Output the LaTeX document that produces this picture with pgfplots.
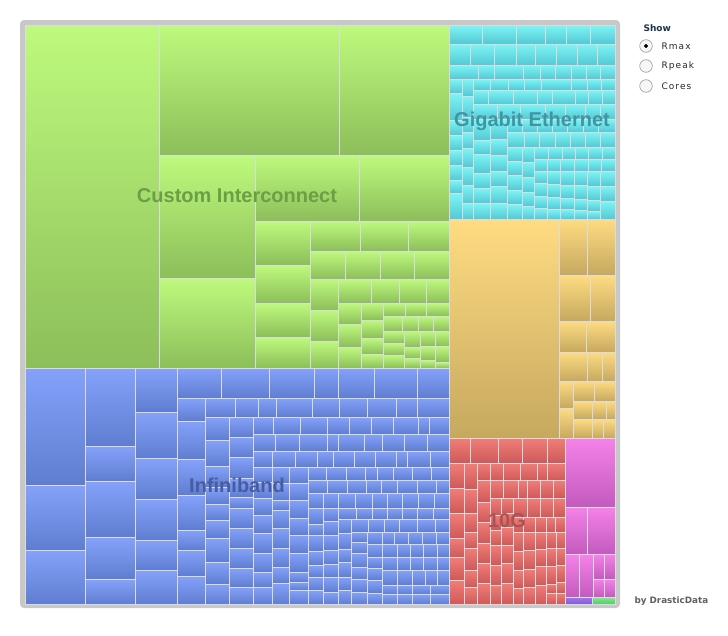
\documentclass[border=0pt]{standalone}
\usepackage{pgfplots}
\usepackage{pgfplotstable}
\pgfplotsset{compat=1.18}
\usepackage{fontspec}
\setmainfont{DejaVu Sans}
\newfontfamily\lab{Liberation Sans}

\definecolor{gT}{RGB}{190,250,125}\definecolor{gB}{RGB}{140,190,90}
\definecolor{cT}{RGB}{125,245,245}\definecolor{cB}{RGB}{85,200,212}
\definecolor{yT}{RGB}{255,220,130}\definecolor{yB}{RGB}{198,168,95}
\definecolor{bT}{RGB}{132,162,250}\definecolor{bB}{RGB}{95,125,208}
\definecolor{rT}{RGB}{242,125,120}\definecolor{rB}{RGB}{205,90,90}
\definecolor{pT}{RGB}{245,130,232}\definecolor{pB}{RGB}{195,90,190}
\definecolor{vT}{RGB}{160,120,235}\definecolor{vB}{RGB}{130,90,210}
\definecolor{eT}{RGB}{130,235,140}\definecolor{eB}{RGB}{90,200,110}
\definecolor{tileline}{RGB}{218,220,222}
\definecolor{framegray}{RGB}{200,200,200}
\definecolor{labG}{RGB}{108,158,70}
\definecolor{labC}{RGB}{62,150,165}
\definecolor{labB}{RGB}{72,92,160}
\definecolor{labR}{RGB}{172,82,82}

\pgfdeclareplotmark{emptymark}{}
\pgfplotsset{
  tiles/.style 2 args={
    scatter, only marks, mark=emptymark,
    visualization depends on={\thisrow{x1}-\thisrow{x0} \as \rw},
    visualization depends on={\thisrow{y1}-\thisrow{y0} \as \rh},
    scatter/@pre marker code/.code={%
      \shade[top color=#1,bottom color=#2,draw=tileline,line width=0.8pt]
        (0pt,0pt) rectangle (\rw pt,\rh pt);},
    scatter/@post marker code/.code={},
  }
}

% Custom Interconnect
\pgfplotstableread{
x0 y0 x1 y1
25 25 159 368
159 25 339 155
339 25 449 155
159 155 255 278
159 278 255 368
255 155 359 221
359 155 449 221
255 221 310 265
255 265 310 303
255 303 310 337
255 337 310 368
310 221 360 251
360 221 408 251
408 221 449 251
310 251 345 279
345 251 380 279
380 251 414 279
414 251 449 279
310 279 338 310
310 310 338 341
310 341 338 368
338 279 371 303
371 279 399 303
399 279 426 303
426 279 449 303
338 303 361 324
338 324 361 347
338 347 361 368
361 303 383 320
361 320 383 338
361 338 383 354
361 354 383 368
383 303 405 316
405 303 426 316
426 303 449 316
383 316 402 331
402 316 418 331
418 316 433 331
433 316 449 331
383 331 404 343
383 343 404 355
383 355 404 368
404 331 420 347
404 347 420 358
404 358 420 368
420 331 435 346
420 346 435 360
420 360 435 368
435 331 449 346
435 346 449 362
435 362 449 368
}\tblGreen

% Gigabit Ethernet
\pgfplotstableread{
x0 y0 x1 y1
449 25 482 44
482 25 516 44
516 25 545 44
545 25 566 44
566 25 590 44
590 25 615 44
449 44 470 65
470 44 494 65
494 44 516 65
516 44 535 65
535 44 556 65
556 44 577 65
577 44 597 65
597 44 615 65
449 65 478 79
478 65 494 79
494 65 523 79
523 65 540 79
540 65 555 79
555 65 571 79
571 65 586 79
586 65 600 79
600 65 615 79
449 79 462 93
449 93 462 120
449 120 462 135
449 135 462 150
449 150 462 165
449 165 462 180
449 180 462 193
449 193 462 219
462 79 473 96
462 96 473 117
462 117 473 132
462 132 473 148
462 148 473 167
462 167 473 185
462 185 473 203
462 203 473 219
473 79 490 90
490 79 508 90
508 79 524 90
524 79 541 90
541 79 571 90
571 79 587 90
587 79 601 90
601 79 615 90
473 90 488 104
488 90 513 104
513 90 537 104
537 90 552 104
552 90 575 104
575 90 588 104
588 90 602 104
602 90 615 104
473 104 497 119
497 104 520 119
520 104 545 119
545 104 565 119
565 104 585 119
585 104 600 119
600 104 615 119
473 119 490 140
473 140 490 154
473 154 490 173
473 173 490 188
473 188 490 203
473 203 490 219
490 119 507 139
490 139 507 155
490 155 507 171
490 171 507 186
490 186 507 203
490 203 507 219
507 119 522 132
522 119 537 132
537 119 552 132
552 119 567 132
567 119 583 132
583 119 598 132
598 119 615 132
507 132 524 147
524 132 539 147
539 132 555 147
555 132 570 147
570 132 585 147
585 132 600 147
600 132 615 147
507 147 522 161
507 161 522 175
507 175 522 190
507 190 522 204
507 204 522 219
522 147 534 162
522 162 534 177
522 177 534 192
522 192 534 206
522 206 534 219
534 147 548 159
548 147 562 159
562 147 575 159
575 147 588 159
588 147 602 159
602 147 615 159
534 159 547 171
547 159 560 171
560 159 574 171
574 159 588 171
588 159 601 171
601 159 615 171
534 171 547 183
534 183 547 196
534 196 547 208
534 208 547 219
547 171 560 184
547 184 560 197
547 197 560 209
547 209 560 219
560 171 574 185
560 185 574 198
560 198 574 209
560 209 574 219
574 171 587 185
574 185 587 199
574 199 587 210
574 210 587 219
587 171 600 186
587 186 600 200
587 200 600 211
587 211 600 219
600 171 615 186
600 186 615 201
600 201 615 219
}\tblCyan

% unnamed (gold)
\pgfplotstableread{
x0 y0 x1 y1
449 219 559 438
559 219 587 275
587 219 615 275
559 275 590 321
590 275 615 321
559 321 586 352
586 321 615 352
559 352 587 381
587 352 602 381
602 352 615 381
559 381 573 408
559 408 573 438
573 381 594 401
594 381 615 401
573 401 592 419
592 401 606 419
606 401 615 419
573 419 592 438
592 419 603 438
603 419 615 438
}\tblGold

% Infiniband
\pgfplotstableread{
x0 y0 x1 y1
25 368 85 485
25 485 85 550
25 550 85 604
85 368 135 446
85 446 135 481
85 481 135 537
85 537 135 579
85 579 135 604
135 368 177 412
135 412 177 458
135 458 177 499
135 499 177 540
135 540 177 570
135 570 177 604
177 368 221 398
221 368 269 398
269 368 314 398
314 368 338 398
338 368 374 398
374 368 417 398
417 368 449 398
177 398 205 421
177 421 205 459
177 459 205 495
177 495 205 530
177 530 205 550
177 550 205 576
177 576 205 604
205 398 235 417
235 398 258 417
258 398 276 417
276 398 312 417
312 398 339 417
339 398 367 417
367 398 396 417
396 398 417 417
417 398 449 417
205 417 229 440
205 440 229 466
205 466 229 487
205 487 229 504
205 504 229 520
205 520 229 538
205 538 229 562
205 562 229 584
205 584 229 604
229 417 253 437
229 437 253 457
229 457 253 478
229 478 253 497
229 497 253 508
229 508 253 528
229 528 253 548
229 548 253 568
229 568 253 587
229 587 253 604
253 417 273 434
273 417 300 434
300 417 327 434
327 417 349 434
349 417 371 434
371 417 393 434
393 417 418 434
418 417 429 434
429 417 449 434
253 434 275 451
275 434 299 451
299 434 327 451
327 434 338 451
338 434 364 451
364 434 382 451
382 434 404 451
404 434 427 451
427 434 449 451
253 451 272 467
272 451 295 467
295 451 317 467
317 451 333 467
333 451 354 467
354 451 375 467
375 451 396 467
396 451 407 467
407 451 430 467
430 451 449 467
253 467 272 482
253 482 272 498
253 498 272 515
253 515 272 533
253 533 272 553
253 553 272 572
253 572 272 587
253 587 272 604
272 467 289 483
272 483 289 500
272 500 289 510
272 510 289 528
272 528 289 548
272 548 289 567
272 567 289 583
272 583 289 604
289 467 308 483
289 483 308 500
289 500 308 518
289 518 308 535
289 535 308 553
289 553 308 572
289 572 308 582
289 582 308 590
289 590 308 604
308 467 326 480
326 467 346 480
346 467 365 480
365 467 377 480
377 467 393 480
393 467 412 480
412 467 431 480
431 467 449 480
308 480 327 493
327 480 347 493
347 480 366 493
366 480 381 493
381 480 397 493
397 480 417 493
417 480 436 493
436 480 449 493
308 493 323 508
308 508 323 524
308 524 323 535
308 535 323 551
308 551 323 565
308 565 323 577
308 577 323 590
308 590 323 604
323 493 338 508
323 508 338 521
323 521 338 535
323 535 338 550
323 550 338 564
323 564 338 577
323 577 338 592
323 592 338 604
338 493 355 508
355 493 372 508
372 493 387 508
387 493 402 508
402 493 418 508
418 493 434 508
434 493 449 508
338 508 356 519
356 508 372 519
372 508 387 519
387 508 402 519
402 508 417 519
417 508 433 519
433 508 449 519
338 519 351 533
338 533 351 549
338 549 351 562
338 562 351 577
338 577 351 590
338 590 351 604
351 519 368 532
368 519 384 532
384 519 399 532
399 519 417 532
417 519 435 532
435 519 449 532
351 532 367 542
351 542 367 553
351 553 367 567
351 567 367 579
351 579 367 592
351 592 367 604
367 532 382 544
382 532 394 544
394 532 408 544
408 532 422 544
422 532 436 544
436 532 449 544
367 544 382 557
382 544 397 557
397 544 410 557
410 544 423 557
423 544 437 557
437 544 449 557
367 557 382 568
367 568 382 580
367 580 382 593
367 593 382 604
382 557 397 570
397 557 410 570
410 557 423 570
423 557 437 570
437 557 449 570
382 570 397 585
397 570 412 585
412 570 425 585
425 570 437 585
437 570 449 585
382 585 397 594
397 585 412 594
412 585 430 594
430 585 449 594
382 594 397 604
397 594 412 604
412 594 430 604
430 594 449 604
}\tblBlue

% 10G
\pgfplotstableread{
x0 y0 x1 y1
449 438 470 463
470 438 498 463
498 438 522 463
522 438 547 463
547 438 565 463
449 463 464 488
449 488 464 513
449 513 464 538
449 538 464 557
449 557 464 580
449 580 464 604
464 463 477 489
464 489 477 513
464 513 477 532
464 532 477 548
464 548 477 570
464 570 477 587
464 587 477 604
477 463 490 480
490 463 503 480
503 463 520 480
520 463 537 480
537 463 547 480
547 463 565 480
477 480 490 502
477 502 490 522
477 522 490 543
477 543 490 563
477 563 490 583
477 583 490 604
490 480 503 498
503 480 518 498
518 480 527 498
527 480 540 498
540 480 553 498
553 480 565 498
490 498 501 515
490 515 501 530
490 530 501 545
490 545 501 565
490 565 501 585
490 585 501 604
501 498 513 513
501 513 513 527
501 527 513 545
501 545 513 563
501 563 513 583
501 583 513 604
513 498 527 517
527 498 540 517
540 498 553 517
553 498 565 517
513 517 523 532
523 517 535 532
535 517 546 532
546 517 555 532
555 517 565 532
513 532 523 551
513 551 523 570
513 570 523 588
513 588 523 604
523 532 535 550
523 550 535 569
523 569 535 587
523 587 535 604
535 532 546 549
535 549 546 566
535 566 546 585
535 585 546 604
546 532 556 548
546 548 556 566
546 566 556 584
546 584 556 593
546 593 556 604
556 532 565 548
556 548 565 565
556 565 565 582
556 582 565 593
556 593 565 604
}\tblRed

% pink group
\pgfplotstableread{
x0 y0 x1 y1
565 438 615 507
565 507 587 554
587 507 615 554
565 554 579 597
579 554 593 597
593 554 604 579
604 554 615 579
593 579 604 597
604 579 615 597
}\tblPink

\pgfplotstableread{
x0 y0 x1 y1
565 597 592 604
}\tblViolet

\pgfplotstableread{
x0 y0 x1 y1
592 597 615 604
}\tblMint

\begin{document}
\begin{tikzpicture}
\begin{axis}[
  x=1pt, y=1pt,
  xmin=0, xmax=728, ymin=0, ymax=635,
  y dir=reverse,
  hide axis, clip=false,
]
% frame
\addplot[fill=framegray, draw=none, rounded corners=4pt]
  coordinates {(20,20) (620,20) (620,608) (20,608)} -- cycle;

\addplot[tiles={gT}{gB}] table[x=x0,y=y1] {\tblGreen};
\addplot[tiles={cT}{cB}] table[x=x0,y=y1] {\tblCyan};
\addplot[tiles={yT}{yB}] table[x=x0,y=y1] {\tblGold};
\addplot[tiles={bT}{bB}] table[x=x0,y=y1] {\tblBlue};
\addplot[tiles={rT}{rB}] table[x=x0,y=y1] {\tblRed};
\addplot[tiles={pT}{pB}] table[x=x0,y=y1] {\tblPink};
\addplot[tiles={vT}{vB}] table[x=x0,y=y1] {\tblViolet};
\addplot[tiles={eT}{eB}] table[x=x0,y=y1] {\tblMint};

% radio buttons
\addplot[only marks, mark=*, mark size=6.3pt,
  mark options={draw={rgb,255:red,165;green,165;blue,165}, fill={rgb,255:red,246;green,246;blue,246}, line width=0.7pt}]
  coordinates {(646,46) (646,66) (646,86)};
\addplot[only marks, mark=*, mark size=1.8pt, mark options={draw=black, fill=black}]
  coordinates {(646,46)};

% anchor points
\coordinate (bbA) at (axis cs:0,0);
\coordinate (bbB) at (axis cs:728,635);
\coordinate (pCI) at (axis cs:237,196);
\coordinate (pGE) at (axis cs:532,121);
\coordinate (pIB) at (axis cs:237,485);
\coordinate (pTG) at (axis cs:507,521);
\coordinate (pShow) at (axis cs:640,28);
\coordinate (pR1) at (axis cs:658,46);
\coordinate (pR2) at (axis cs:658,66);
\coordinate (pR3) at (axis cs:658,86);
\coordinate (pBy) at (axis cs:631,601);
\end{axis}
\path (bbA) rectangle (bbB);
% group labels
\node[text=labG, font=\lab\bfseries\fontsize{20}{24}\selectfont] at (pCI) {Custom Interconnect};
\node[text=labC, font=\lab\bfseries\fontsize{20}{24}\selectfont] at (pGE) {Gigabit Ethernet};
\node[text=labB, font=\lab\bfseries\fontsize{20}{24}\selectfont] at (pIB) {Infiniband};
\node[text=labR, font=\lab\bfseries\fontsize{20}{24}\selectfont] at (pTG) {10G};
% legend texts
\node[anchor=west, text={rgb,255:red,30;green,50;blue,70}, font=\bfseries\fontsize{9}{10}\selectfont] at (pShow) {Show};
\node[anchor=west, text={rgb,255:red,40;green,40;blue,40}, font=\addfontfeature{LetterSpace=12}\fontsize{9}{10}\selectfont] at (pR1) {Rmax};
\node[anchor=west, text={rgb,255:red,40;green,40;blue,40}, font=\addfontfeature{LetterSpace=12}\fontsize{9}{10}\selectfont] at (pR2) {Rpeak};
\node[anchor=west, text={rgb,255:red,40;green,40;blue,40}, font=\addfontfeature{LetterSpace=12}\fontsize{9}{10}\selectfont] at (pR3) {Cores};
\node[anchor=west, text={rgb,255:red,95;green,95;blue,95}, font=\bfseries\fontsize{8.8}{10}\selectfont] at (pBy) {by DrasticData};
\end{tikzpicture}
\end{document}
